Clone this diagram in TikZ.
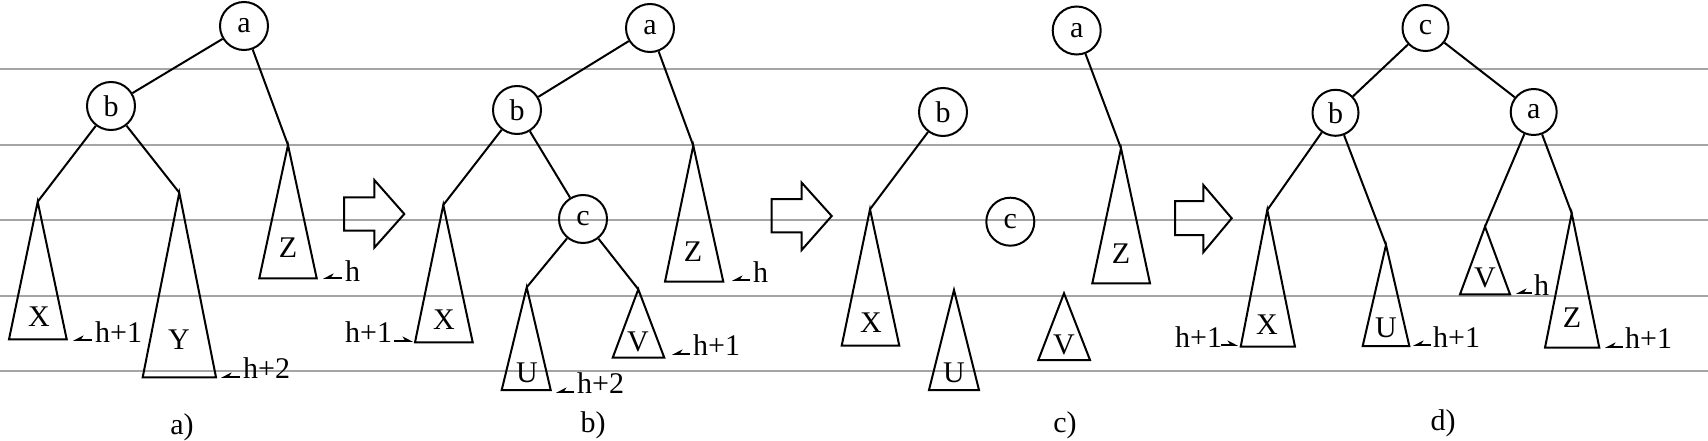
\documentclass[tikz,border=0pt]{standalone}
\usepackage{fontspec}
\setmainfont{Liberation Serif}
\usetikzlibrary{arrows.meta}
\tikzset{
  nd/.style={draw, circle, line width=2pt, minimum size=48pt, inner sep=0pt, font=\fontsize{30}{36}\selectfont},
  tl/.style={font=\fontsize{30}{36}\selectfont, inner sep=0pt},
  ht/.style={font=\fontsize{30}{36}\selectfont, inner sep=0pt, anchor=base west},
  edge/.style={line width=2pt},
  tri/.style={line width=2pt, line join=miter},
  lab/.style={line width=2pt, -{Stealth[harpoon, length=9pt, width=9pt]}},
  labs/.style={line width=2pt, -{Stealth[harpoon, swap, length=9pt, width=9pt]}},
  grid/.style={line width=1.2pt, draw={rgb,255:red,165;green,165;blue,165}},
  bigarrow/.style={line width=2pt, line join=miter}
}
\begin{document}
\begin{tikzpicture}[x=1pt, y=-1pt]
\useasboundingbox (0,0) rectangle (1708,441);
% gray horizontal lines
\foreach \yy in {69,145,220,296,371} {\draw[grid] (0,\yy) -- (1708,\yy);}

% ---------- panel a ----------
\node[nd] (a1) at (244,26) {a};
\node[nd] (b1) at (111,106) {b};
\coordinate (za1) at (288,145);   \coordinate (zl1) at (259.3,278.3); \coordinate (zr1) at (316.7,278.3);
\coordinate (xa1) at (37.7,201.7);\coordinate (xl1) at (9,339.3);     \coordinate (xr1) at (66.7,339.3);
\coordinate (ya1) at (179.3,192.7);\coordinate (yl1) at (142.7,377.3);\coordinate (yr1) at (216,377.3);
\draw[edge] (a1) -- (b1);
\draw[edge] (a1) -- (za1);
\draw[edge] (b1) -- (xa1);
\draw[edge] (b1) -- (ya1);
\draw[tri] (za1) -- (zl1) -- (zr1) -- cycle;
\draw[tri] (xa1) -- (xl1) -- (xr1) -- cycle;
\draw[tri] (ya1) -- (yl1) -- (yr1) -- cycle;
\node[tl] (zt1) at (288,248) {Z};
\node[tl] (xt1) at (39,317) {X};
\node[tl] (yt1) at (179,340) {Y};
\coordinate (s1) at (342,278); \coordinate (e1) at (323,278);
\draw[labs] (s1) -- (e1); \node[ht] (h1) at (345,281) {h};
\coordinate (s2) at (92,340); \coordinate (e2) at (73,340);
\draw[labs] (s2) -- (e2); \node[ht] (h2) at (95,342) {h+1};
\coordinate (s3) at (240,377); \coordinate (e3) at (221,377);
\draw[labs] (s3) -- (e3); \node[ht] (h3) at (243,378) {h+2};
\node[tl] (cap1) at (182,427) {a)};

% arrow 1
\draw[bigarrow] (344,197.3) -- (374.3,197.3) -- (374.3,180) -- (404.3,214) -- (374.3,247.7) -- (374.3,230.7) -- (344,230.7) -- cycle;

% ---------- panel b ----------
\node[nd] (a2) at (650,28) {a};
\node[nd] (b2) at (517,110) {b};
\node[nd] (c2) at (583,219) {c};
\coordinate (za2) at (693.3,145.7); \coordinate (zl2) at (665,281.7); \coordinate (zr2) at (723.3,281.7);
\coordinate (xa2) at (443.3,205);   \coordinate (xl2) at (415,342.3); \coordinate (xr2) at (472.7,342.3);
\coordinate (ua2) at (526.7,287.3); \coordinate (ul2) at (501.7,390); \coordinate (ur2) at (550.7,390);
\coordinate (va2) at (638.3,289.3); \coordinate (vl2) at (612.7,357.7); \coordinate (vr2) at (664.3,357.7);
\draw[edge] (a2) -- (b2);
\draw[edge] (a2) -- (za2);
\draw[edge] (b2) -- (xa2);
\draw[edge] (b2) -- (c2);
\draw[edge] (c2) -- (ua2);
\draw[edge] (c2) -- (va2);
\draw[tri] (za2) -- (zl2) -- (zr2) -- cycle;
\draw[tri] (xa2) -- (xl2) -- (xr2) -- cycle;
\draw[tri] (ua2) -- (ul2) -- (ur2) -- cycle;
\draw[tri] (va2) -- (vl2) -- (vr2) -- cycle;
\node[tl] (zt2) at (693,252) {Z};
\node[tl] (xt2) at (444,320) {X};
\node[tl] (ut2) at (527,373) {U};
\node[tl] (vt2) at (638,342) {V};
\node[ht] (h4) at (345,342) {h+1};
\coordinate (s4) at (394,341); \coordinate (e4) at (413,341);
\draw[lab] (s4) -- (e4);
\coordinate (s5) at (574,392); \coordinate (e5) at (556,392);
\draw[labs] (s5) -- (e5); \node[ht] (h5) at (577,393) {h+2};
\coordinate (s6) at (690,354); \coordinate (e6) at (672,354);
\draw[labs] (s6) -- (e6); \node[ht] (h6) at (693,355) {h+1};
\coordinate (s7) at (750,280); \coordinate (e7) at (732,280);
\draw[labs] (s7) -- (e7); \node[ht] (h7) at (753,282) {h};
\node[tl] (cap2) at (593,425) {b)};

% arrow 2
\draw[bigarrow] (771.7,199) -- (801.7,199) -- (801.7,182.7) -- (831.7,216) -- (801.7,250) -- (801.7,232.3) -- (771.7,232.3) -- cycle;

% ---------- panel c ----------
\node[nd] (a3) at (1076.7,30.5) {a};
\node[nd] (b3) at (943,112) {b};
\node[nd] (c3) at (1010.3,221.7) {c};
\coordinate (xa3) at (870,209.3);   \coordinate (xl3) at (841.7,345.7); \coordinate (xr3) at (899.3,345.7);
\coordinate (ua3) at (954,290);     \coordinate (ul3) at (929,390);     \coordinate (ur3) at (979,390);
\coordinate (va3) at (1064,293.3);  \coordinate (vl3) at (1038.3,360);  \coordinate (vr3) at (1090,360);
\coordinate (za3) at (1121,148.3);  \coordinate (zl3) at (1092.3,283.3);\coordinate (zr3) at (1150,283.3);
\draw[edge] (b3) -- (xa3);
\draw[edge] (a3) -- (za3);
\draw[tri] (xa3) -- (xl3) -- (xr3) -- cycle;
\draw[tri] (ua3) -- (ul3) -- (ur3) -- cycle;
\draw[tri] (va3) -- (vl3) -- (vr3) -- cycle;
\draw[tri] (za3) -- (zl3) -- (zr3) -- cycle;
\node[tl] (xt3) at (871,323) {X};
\node[tl] (ut3) at (954,373) {U};
\node[tl] (vt3) at (1064,345) {V};
\node[tl] (zt3) at (1121,254) {Z};
\node[tl] (cap3) at (1065,425) {c)};

% arrow 3
\draw[bigarrow] (1175,201) -- (1203.3,201) -- (1203.3,185) -- (1231.7,218.3) -- (1203.3,252.3) -- (1203.3,235) -- (1175,235) -- cycle;

% ---------- panel d ----------
\node[nd, minimum size=46pt] (c4) at (1425.5,28) {c};
\node[nd, minimum size=46pt] (b4) at (1335.5,112.8) {b};
\node[nd, minimum size=46pt] (a4) at (1533.7,112) {a};
\coordinate (xa4) at (1267.3,210);  \coordinate (xl4) at (1240.7,346.7); \coordinate (xr4) at (1295,346.7);
\coordinate (ua4) at (1386,245);    \coordinate (ul4) at (1362.7,346);   \coordinate (ur4) at (1409.3,346);
\coordinate (va4) at (1485,226.7);  \coordinate (vl4) at (1460,294.3);   \coordinate (vr4) at (1510,294.3);
\coordinate (za4) at (1571.7,213.3);\coordinate (zl4) at (1545,347.7);   \coordinate (zr4) at (1599.3,347.7);
\draw[edge] (c4) -- (b4);
\draw[edge] (c4) -- (a4);
\draw[edge] (b4) -- (xa4);
\draw[edge] (b4) -- (ua4);
\draw[edge] (a4) -- (va4);
\draw[edge] (a4) -- (za4);
\draw[tri] (xa4) -- (xl4) -- (xr4) -- cycle;
\draw[tri] (ua4) -- (ul4) -- (ur4) -- cycle;
\draw[tri] (va4) -- (vl4) -- (vr4) -- cycle;
\draw[tri] (za4) -- (zl4) -- (zr4) -- cycle;
\node[tl] (xt4) at (1267,325) {X};
\node[tl] (ut4) at (1386,328) {U};
\node[tl] (vt4) at (1485,278) {V};
\node[tl] (zt4) at (1572,318) {Z};
\node[ht] (h8) at (1175,347) {h+1};
\coordinate (s8) at (1221,345); \coordinate (e8) at (1238,345);
\draw[lab] (s8) -- (e8);
\coordinate (s9) at (1431,345); \coordinate (e9) at (1413,345);
\draw[labs] (s9) -- (e9); \node[ht] (h9) at (1433,347) {h+1};
\coordinate (s10) at (1532,293); \coordinate (e10) at (1516,293);
\draw[labs] (s10) -- (e10); \node[ht] (h10) at (1534,295) {h};
\coordinate (s11) at (1623,347); \coordinate (e11) at (1605,347);
\draw[labs] (s11) -- (e11); \node[ht] (h11) at (1625,348) {h+1};
\node[tl] (cap4) at (1443,423) {d)};
\end{tikzpicture}
\end{document}
